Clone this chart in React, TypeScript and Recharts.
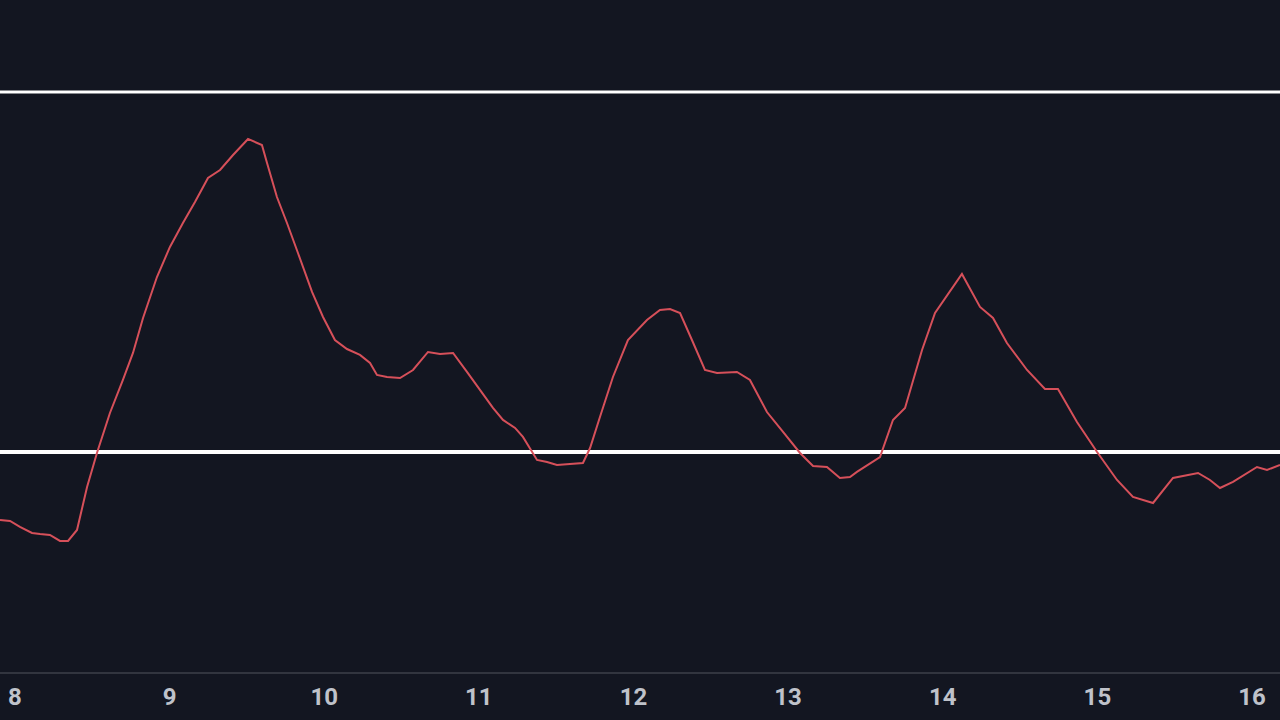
import { LineChart, Line, XAxis, YAxis, ReferenceLine } from 'recharts';

// day values along the time axis
const days = [
  7.903, 7.968, 8.032, 8.11, 8.162, 8.226, 8.291, 8.343, 8.401, 8.466,
  8.53, 8.614, 8.698, 8.763, 8.828, 8.918, 9.002, 9.086, 9.164, 9.248,
  9.326, 9.41, 9.507, 9.597, 9.63, 9.694, 9.759, 9.83, 9.921, 9.992,
  10.069, 10.147, 10.231, 10.296, 10.341, 10.406, 10.49, 10.574, 10.671, 10.749,
  10.833, 10.923, 11.007, 11.091, 11.156, 11.234, 11.285, 11.376, 11.441, 11.505,
  11.589, 11.673, 11.719, 11.783, 11.867, 11.964, 12.087, 12.171, 12.236, 12.301,
  12.378, 12.462, 12.54, 12.669, 12.753, 12.863, 12.967, 13.077, 13.161, 13.251,
  13.335, 13.4, 13.445, 13.594, 13.678, 13.756, 13.866, 13.95, 14.124, 14.241,
  14.325, 14.415, 14.545, 14.661, 14.745, 14.868, 14.998, 15.127, 15.23, 15.36,
  15.489, 15.651, 15.728, 15.793, 15.877, 16.032, 16.097, 16.181,
];

// oscillator readings
const values = [
  22.44, 22.33, 21.67, 21.0, 20.89, 20.78, 20.11, 20.11, 21.33, 26.11,
  29.89, 34.33, 38.0, 41.0, 44.89, 49.44, 52.78, 55.44, 57.78, 60.44,
  61.33, 63.0, 64.78, 64.11, 62.11, 58.33, 55.44, 52.11, 47.78, 45.0,
  42.44, 41.44, 40.78, 39.89, 38.56, 38.33, 38.22, 39.11, 41.11, 40.89,
  41.0, 38.89, 36.89, 34.89, 33.56, 32.67, 31.67, 29.11, 28.89, 28.56,
  28.67, 28.78, 30.44, 33.89, 38.33, 42.44, 44.67, 45.78, 45.89, 45.44,
  42.44, 39.11, 38.78, 38.89, 38.0, 34.44, 32.22, 29.89, 28.44, 28.33,
  27.11, 27.22, 27.78, 29.44, 33.56, 34.89, 41.33, 45.44, 49.78, 46.11,
  44.89, 42.11, 39.11, 37.0, 37.0, 33.33, 30.0, 26.89, 25.0, 24.33,
  27.11, 27.67, 26.89, 26.0, 26.67, 28.33, 28.0, 28.56,
];

const dayTicks = [8, 9, 10, 11, 12, 13, 14, 15, 16];
const levels = [70, 30];

const data = days.map((d, i) => ({ day: d, value: values[i] }));

export default function App() {
  return (
    <div style={{ position: 'absolute', left: 0, top: 0, width: 1280, height: 720, background: '#131621' }}>
      <LineChart width={1280} height={720} data={data} margin={{ top: 0, right: 0, bottom: 0, left: 0 }}>
        <XAxis
          type="number"
          dataKey="day"
          domain={[7.903, 16.181]}
          ticks={dayTicks}
          allowDataOverflow
          height={47}
          tickLine={false}
          tickMargin={9}
          axisLine={{ stroke: '#32353f', strokeWidth: 2 }}
          tick={{ fill: '#bfc2ca', fontSize: 24, fontWeight: 700, fontFamily: 'Roboto' }}
        />
        <YAxis hide type="number" domain={[5.44, 80.22]} allowDataOverflow />
        <ReferenceLine y={levels[0]} stroke="#ffffff" strokeWidth={3} />
        <ReferenceLine y={levels[1]} stroke="#ffffff" strokeWidth={4} />
        <Line
          type="linear"
          dataKey="value"
          stroke="#d6505a"
          strokeWidth={2}
          dot={false}
          activeDot={false}
          isAnimationActive={false}
        />
      </LineChart>
    </div>
  );
}
